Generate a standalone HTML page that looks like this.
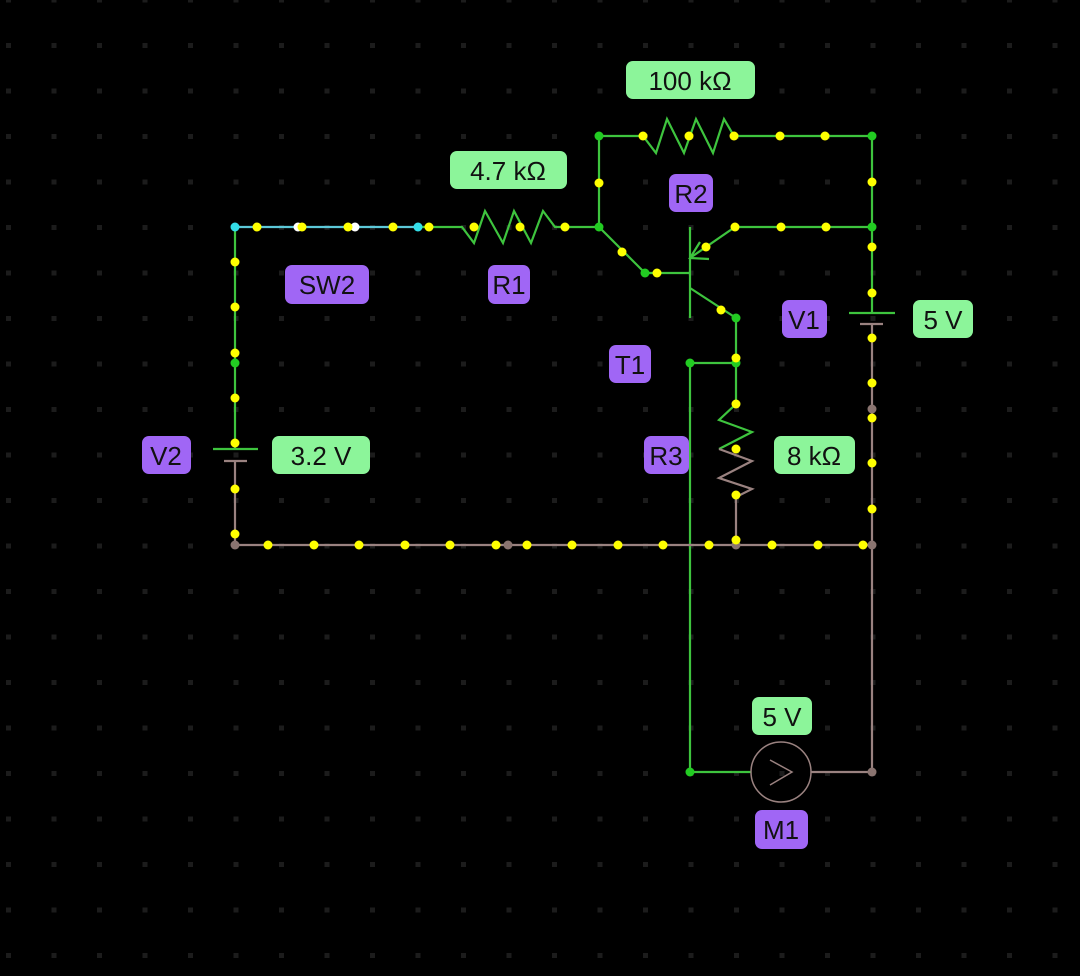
<!DOCTYPE html>
<html><head><meta charset="utf-8">
<style>
html,body{margin:0;padding:0;background:#000;width:1080px;height:976px;overflow:hidden}
svg{display:block}
text{font-family:"Liberation Sans",sans-serif;font-size:26px;fill:#111;text-anchor:middle;dominant-baseline:central}
circle{r:4.5}
</style></head><body>
<svg width="1080" height="976" viewBox="0 0 1080 976" xmlns="http://www.w3.org/2000/svg">
<defs>
<pattern id="g" x="6" y="-2.5" width="45.5" height="45.5" patternUnits="userSpaceOnUse">
<rect x="0" y="0" width="5" height="5" fill="#1c1c1c"/>
</pattern>
</defs>
<rect width="1080" height="976" fill="#000"/>
<rect width="1080" height="976" fill="url(#g)"/>

<g fill="none" stroke-width="2.2">
<line x1="235" y1="227" x2="418" y2="227" stroke="#5cc8d8"/>
<polyline points="418,227 462,227 474,243 485,211 503,243 514,211 531,243 543,211 555,227 599,227" stroke="#3ec43e"/>
<polyline points="599,227 599,136 643,136 656,153 667,119 684,153 696,119 713,153 724,119 734,136 872,136 872,313" stroke="#3ec43e"/>
<polyline points="599,227 645,273 690,273" stroke="#3ec43e"/>
<line x1="690" y1="227" x2="690" y2="318" stroke="#3ec43e"/>
<polyline points="690,258 735,227 872,227" stroke="#3ec43e"/>
<polyline points="700,242 690,258 709,259" stroke="#3ec43e"/>
<polyline points="690,288 736,318 736,404 719,420 752,432 719,449" stroke="#3ec43e"/>
<polyline points="719,449 752,461 719,478 752,489 736,497 736,545" stroke="#9a8280"/>
<line x1="690" y1="363" x2="736" y2="363" stroke="#3ec43e"/>
<polyline points="690,363 690,772 751,772" stroke="#3ec43e"/>
<line x1="849" y1="313" x2="895" y2="313" stroke="#3ec43e"/>
<line x1="860" y1="324" x2="883" y2="324" stroke="#9a8280"/>
<polyline points="872,324 872,772 811,772" stroke="#9a8280"/>
<line x1="235" y1="227" x2="235" y2="449" stroke="#3ec43e"/>
<line x1="213" y1="449" x2="258" y2="449" stroke="#3ec43e"/>
<line x1="224" y1="461" x2="247" y2="461" stroke="#9a8280"/>
<polyline points="235,461 235,545 872,545" stroke="#9a8280"/>
<circle cx="781" cy="772" r="30" style="r:30px" stroke="#9a8280" stroke-width="1.5"/>
<polyline points="770,760 792,772 770,785" stroke="#9a8280" stroke-width="1.5"/>
</g>

<g fill="#22cc22">
<circle cx="599" cy="136" r="4.5"/><circle cx="872" cy="136" r="4.5"/><circle cx="599" cy="227" r="4.5"/>
<circle cx="872" cy="227" r="4.5"/><circle cx="645" cy="273" r="4.5"/><circle cx="736" cy="318" r="4.5"/>
<circle cx="690" cy="363" r="4.5"/><circle cx="736" cy="363" r="4.5"/><circle cx="690" cy="772" r="4.5"/>
<circle cx="235" cy="363" r="4.5"/>
</g>
<g fill="#8a7470">
<circle cx="235" cy="545" r="4.5"/><circle cx="508" cy="545" r="4.5"/><circle cx="736" cy="545" r="4.5"/>
<circle cx="872" cy="545" r="4.5"/><circle cx="872" cy="409" r="4.5"/><circle cx="872" cy="772" r="4.5"/>
</g>
<g fill="#33dde8">
<circle cx="235" cy="227" r="4.5"/><circle cx="418" cy="227" r="4.5"/>
</g>
<g fill="#fff">
<circle cx="298" cy="227" r="4.5"/><circle cx="355" cy="227" r="4.5"/>
</g>
<g fill="#ffff00">
<circle cx="257" cy="227" r="4.5"/><circle cx="302" cy="227" r="4.5"/><circle cx="348" cy="227" r="4.5"/>
<circle cx="393" cy="227" r="4.5"/><circle cx="429" cy="227" r="4.5"/><circle cx="474" cy="227" r="4.5"/>
<circle cx="520" cy="227" r="4.5"/><circle cx="565" cy="227" r="4.5"/>
<circle cx="643" cy="136" r="4.5"/><circle cx="689" cy="136" r="4.5"/><circle cx="734" cy="136" r="4.5"/>
<circle cx="780" cy="136" r="4.5"/><circle cx="825" cy="136" r="4.5"/>
<circle cx="599" cy="183" r="4.5"/><circle cx="872" cy="182" r="4.5"/>
<circle cx="622" cy="252" r="4.5"/><circle cx="657" cy="273" r="4.5"/>
<circle cx="706" cy="247" r="4.5"/><circle cx="735" cy="227" r="4.5"/><circle cx="781" cy="227" r="4.5"/><circle cx="826" cy="227" r="4.5"/>
<circle cx="872" cy="247" r="4.5"/><circle cx="872" cy="293" r="4.5"/>
<circle cx="721" cy="310" r="4.5"/><circle cx="736" cy="358" r="4.5"/>
<circle cx="736" cy="404" r="4.5"/><circle cx="736" cy="449" r="4.5"/><circle cx="736" cy="495" r="4.5"/><circle cx="736" cy="540" r="4.5"/>
<circle cx="872" cy="338" r="4.5"/><circle cx="872" cy="383" r="4.5"/><circle cx="872" cy="418" r="4.5"/>
<circle cx="872" cy="463" r="4.5"/><circle cx="872" cy="509" r="4.5"/>
<circle cx="235" cy="262" r="4.5"/><circle cx="235" cy="307" r="4.5"/><circle cx="235" cy="353" r="4.5"/>
<circle cx="235" cy="398" r="4.5"/><circle cx="235" cy="443" r="4.5"/><circle cx="235" cy="489" r="4.5"/><circle cx="235" cy="534" r="4.5"/>
<circle cx="268" cy="545" r="4.5"/><circle cx="314" cy="545" r="4.5"/><circle cx="359" cy="545" r="4.5"/>
<circle cx="405" cy="545" r="4.5"/><circle cx="450" cy="545" r="4.5"/><circle cx="496" cy="545" r="4.5"/>
<circle cx="527" cy="545" r="4.5"/><circle cx="572" cy="545" r="4.5"/><circle cx="618" cy="545" r="4.5"/>
<circle cx="663" cy="545" r="4.5"/><circle cx="709" cy="545" r="4.5"/><circle cx="772" cy="545" r="4.5"/>
<circle cx="818" cy="545" r="4.5"/><circle cx="863" cy="545" r="4.5"/>
</g>

<g fill="#8cf59a">
<rect x="626" y="61" width="129" height="38" rx="7"/>
<rect x="450" y="151" width="117" height="38" rx="7"/>
<rect x="913" y="300" width="60" height="38" rx="7"/>
<rect x="272" y="436" width="98" height="38" rx="7"/>
<rect x="774" y="436" width="81" height="38" rx="7"/>
<rect x="752" y="697" width="60" height="38" rx="7"/>
</g>
<text x="690" y="81">100 kΩ</text>
<text x="508" y="171">4.7 kΩ</text>
<text x="943" y="320">5 V</text>
<text x="321" y="456">3.2 V</text>
<text x="814" y="456">8 kΩ</text>
<text x="782" y="717">5 V</text>

<g fill="#a066f5">
<rect x="669" y="174" width="44" height="38" rx="7"/>
<rect x="285" y="265" width="84" height="39" rx="7"/>
<rect x="488" y="265" width="42" height="39" rx="7"/>
<rect x="782" y="300" width="45" height="38" rx="7"/>
<rect x="609" y="345" width="42" height="38" rx="7"/>
<rect x="142" y="436" width="49" height="38" rx="7"/>
<rect x="644" y="436" width="45" height="38" rx="7"/>
<rect x="755" y="810" width="53" height="39" rx="7"/>
</g>
<text x="691" y="194">R2</text>
<text x="327" y="285">SW2</text>
<text x="509" y="285">R1</text>
<text x="804" y="320">V1</text>
<text x="630" y="365">T1</text>
<text x="166" y="456">V2</text>
<text x="666" y="456">R3</text>
<text x="781" y="830">M1</text>
</svg>
</body></html>
